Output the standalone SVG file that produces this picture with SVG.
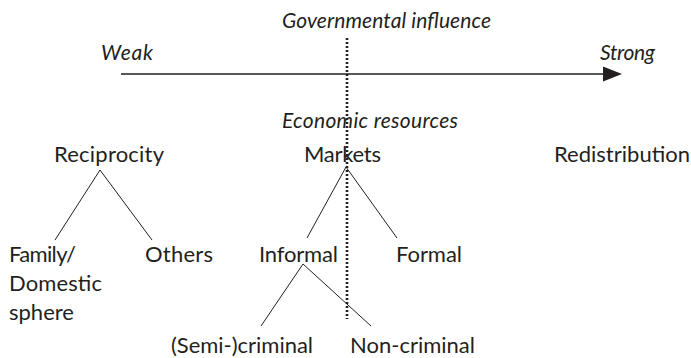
<svg xmlns="http://www.w3.org/2000/svg" width="691" height="358" viewBox="0 0 691 358">
<style>
.t{font-family:Lato,"Open Sans","Liberation Sans",sans-serif;font-size:22px;fill:#231f20}
.i{font-family:Lato,"Open Sans","Liberation Sans",sans-serif;font-size:21px;font-style:italic;fill:#231f20}
.ln{stroke:#231f20;stroke-width:1;fill:none}
</style>
<rect width="691" height="358" fill="#fff"/>
<g id="axis">
<line x1="121" y1="74" x2="606" y2="74" stroke="#231f20" stroke-width="1.3"/>
<polygon points="622,74 603,66.5 603,81.5" fill="#231f20"/>
<text class="i" x="101" y="60" textLength="52">Weak</text>
<text class="i" x="600" y="60" textLength="55">Strong</text>
<text class="i" x="282" y="28" textLength="209">Governmental influence</text>
<text class="i" x="282" y="128" textLength="176">Economic resources</text>
</g>
<g id="connectors">
<line class="ln" x1="100" y1="170" x2="55" y2="240"/>
<line class="ln" x1="100" y1="170" x2="152" y2="240"/>
<line class="ln" x1="346" y1="167" x2="307" y2="238"/>
<line class="ln" x1="346" y1="167" x2="397" y2="238"/>
<line class="ln" x1="303" y1="264" x2="261" y2="326"/>
<line class="ln" x1="303" y1="264" x2="371" y2="326"/>
</g>
<g id="divider">
<line x1="347" y1="38" x2="347" y2="319" stroke="#231f20" stroke-width="2.6" stroke-dasharray="2 2"/>
</g>
<g id="reciprocity"><text class="t" x="54" y="162" textLength="110">Reciprocity</text></g>
<g id="markets"><text class="t" x="304" y="162" textLength="77">Markets</text></g>
<g id="redistribution"><text class="t" x="554" y="162" textLength="136">Redistribution</text></g>
<g id="family"><text class="t" x="9" y="262" textLength="67">Family/</text><text class="t" x="9" y="291" textLength="93">Domestic</text><text class="t" x="9" y="320">sphere</text></g>
<g id="others"><text class="t" x="145" y="262" textLength="68">Others</text></g>
<g id="informal"><text class="t" x="259" y="262" textLength="79">Informal</text></g>
<g id="formal"><text class="t" x="396" y="262" textLength="66">Formal</text></g>
<g id="semicriminal"><text class="t" x="171" y="353" textLength="142">(Semi-)criminal</text></g>
<g id="noncriminal"><text class="t" x="350" y="353" textLength="125">Non-criminal</text></g>
</svg>
